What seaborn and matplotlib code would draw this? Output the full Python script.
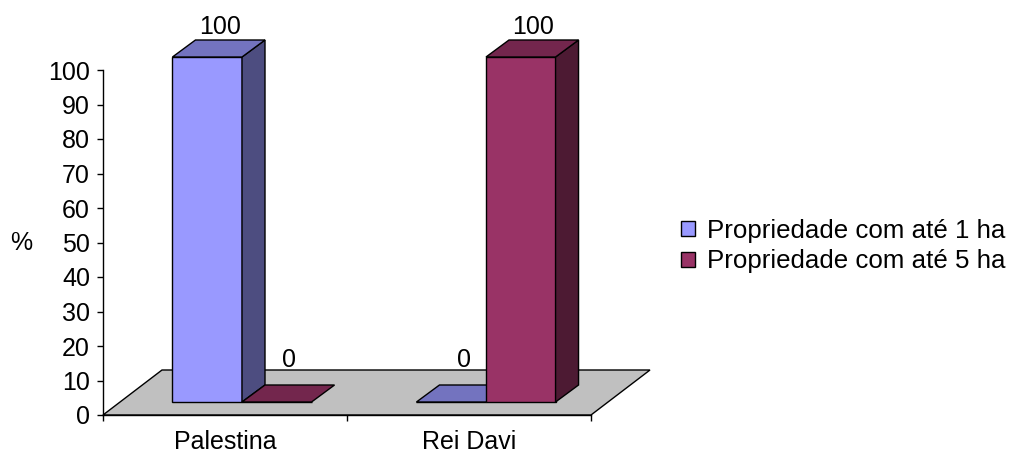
import matplotlib
matplotlib.use("Agg")
import matplotlib.pyplot as plt
import pandas as pd
import seaborn as sns
from matplotlib.patches import Polygon, Patch
from matplotlib.transforms import ScaledTranslation, IdentityTransform

# ---- data -------------------------------------------------------------
categories = ["Palestina", "Rei Davi"]
series_names = ["Propriedade com até 1 ha", "Propriedade com até 5 ha"]
ate_1_ha = [100, 0]
ate_5_ha = [0, 100]
y_ticks = [0, 10, 20, 30, 40, 50, 60, 70, 80, 90, 100]

# ---- styling ----------------------------------------------------------
front_colors = ["#9999FF", "#993366"]
top_colors = ["#7373BF", "#73264D"]
side_colors = ["#4D4D80", "#4D1A33"]
floor_color = "#C0C0C0"
FS = 18
LEGEND_FS = 18.6

sns.set_style("white")
plt.rcParams["font.family"] = ["Liberation Sans", "DejaVu Sans"]
plt.rcParams["text.color"] = "black"

df = pd.DataFrame({
    "categoria": categories * 2,
    "serie": [s for s in series_names for _ in categories],
    "valor": ate_1_ha + ate_5_ha,
})

DPI = 100
W, H = 1012, 455
fig = plt.figure(figsize=(W / DPI, H / DPI), dpi=DPI)
ax = fig.add_axes([103 / W, 40 / H, 488 / W, 345 / H])

# oblique projection offsets, in pixels (x right, y up)
FLOOR_DEPTH = (59, 45)
BAR_SHIFT = (17, 13)
BAR_DEPTH = (23, 17)

sns.barplot(data=df, x="categoria", y="valor", hue="serie",
            palette=front_colors, saturation=1, width=0.57,
            edgecolor="black", linewidth=1.0, legend=False, ax=ax)

ax.set_xlim(-0.5, 1.5)
ax.set_ylim(0, 100)

shift = ax.transData + ScaledTranslation(BAR_SHIFT[0] / DPI, BAR_SHIFT[1] / DPI,
                                         fig.dpi_scale_trans)

def disp(x, y, off=(0, 0)):
    px, py = ax.transData.transform((x, y))
    return px + off[0], py + off[1]

# grey floor
fl = disp(-0.5, 0)
fr = disp(1.5, 0)
floor = Polygon([fl, fr,
                 (fr[0] + FLOOR_DEPTH[0], fr[1] + FLOOR_DEPTH[1]),
                 (fl[0] + FLOOR_DEPTH[0], fl[1] + FLOOR_DEPTH[1])],
                closed=True, facecolor=floor_color, edgecolor="black",
                linewidth=1.0, transform=IdentityTransform(), zorder=1,
                clip_on=False)
ax.add_patch(floor)

# collect bars with their series index, then draw left to right
bars = []
for si, cont in enumerate(ax.containers):
    for rect in cont:
        bars.append((rect.get_x(), si, rect))
bars.sort(key=lambda b: b[0])

inv = fig.transFigure.inverted()
for order, (_, si, rect) in enumerate(bars):
    z = 3 + order * 0.1
    x0, w = rect.get_x(), rect.get_width()
    y0, h = rect.get_y(), rect.get_height()
    rect.set_transform(shift)
    rect.set_clip_on(False)
    rect.set_zorder(z)

    off = BAR_SHIFT
    offb = (BAR_SHIFT[0] + BAR_DEPTH[0], BAR_SHIFT[1] + BAR_DEPTH[1])
    tl = disp(x0, y0 + h, off)
    tr = disp(x0 + w, y0 + h, off)
    br = disp(x0 + w, y0, off)
    tlb = disp(x0, y0 + h, offb)
    trb = disp(x0 + w, y0 + h, offb)
    brb = disp(x0 + w, y0, offb)

    if h > 0:
        side = Polygon([br, tr, trb, brb], closed=True,
                       facecolor=side_colors[si], edgecolor="black",
                       linewidth=1.0, transform=IdentityTransform(),
                       zorder=z, clip_on=False)
        ax.add_patch(side)
    top = Polygon([tl, tr, trb, tlb], closed=True,
                  facecolor=top_colors[si], edgecolor="black",
                  linewidth=1.0, transform=IdentityTransform(),
                  zorder=z + 0.01, clip_on=False)
    ax.add_patch(top)

    # value label above the top face
    cx = (tl[0] + trb[0]) / 2 + 1
    cy = min(tlb[1] + 18, H - 34)
    fx, fy = inv.transform((cx, cy))
    fig.text(fx, fy, f"{h:.0f}", ha="center", va="baseline",
             fontsize=FS, color="black")

# axes decoration
for s in ["top", "right"]:
    ax.spines[s].set_visible(False)
for s in ["left", "bottom"]:
    ax.spines[s].set_color("black")
    ax.spines[s].set_linewidth(1.0)

ax.set_yticks(y_ticks)
ax.tick_params(axis="y", left=True, length=4.3, width=1.0, pad=5,
               labelsize=FS, color="black", labelcolor="black", direction="out")
ax.set_xticks([0, 1], labels=categories)
ax.set_xticks([-0.5, 0.5, 1.5], minor=True)
ax.tick_params(axis="x", which="major", bottom=True, length=0, pad=11,
               labelsize=FS, labelcolor="black")
ax.tick_params(axis="x", which="minor", bottom=True, length=4.3, width=1.0,
               color="black", direction="out")
ax.set_xlabel("")
ax.set_ylabel("%", rotation=0, fontsize=FS, color="black",
              ha="center", va="center")
ax.yaxis.set_label_coords(-0.168, 0.5)

handles = [Patch(facecolor=c, edgecolor="black", linewidth=1.0)
           for c in front_colors]
fig.legend(handles=handles, labels=series_names, loc="center left",
           bbox_to_anchor=(681 / W, 1 - 246 / H), frameon=False,
           fontsize=LEGEND_FS, handlelength=0.54, handleheight=0.54,
           handletextpad=0.48, labelspacing=0.26, borderpad=0,
           borderaxespad=0)

fig.savefig("out.png", dpi=DPI)
